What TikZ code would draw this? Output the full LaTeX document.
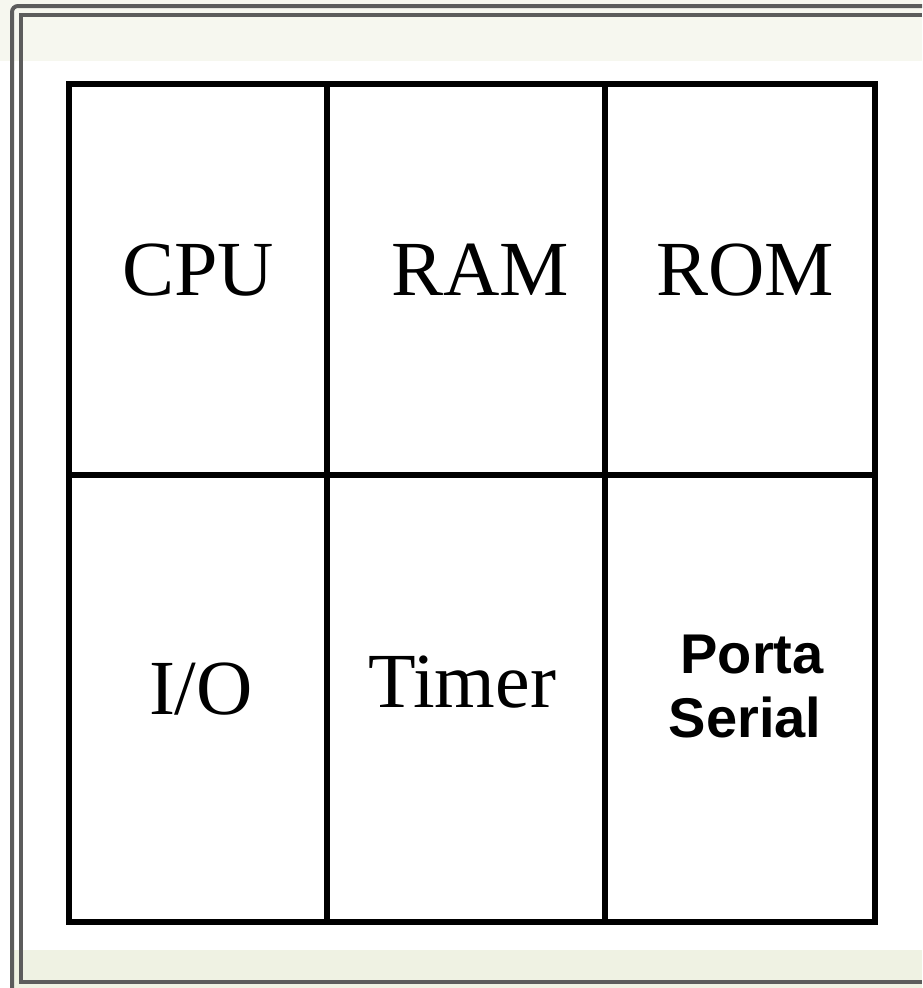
\documentclass[tikz,border=0pt]{standalone}
\usepackage{fontspec}
\setmainfont{Liberation Serif}
\newfontfamily\arialfont{Liberation Sans}
\definecolor{bandtop}{HTML}{F6F7EF}
\definecolor{bandbot}{HTML}{EFF2E3}
\definecolor{framegray}{HTML}{5C5C5C}
\tikzset{
  gridline/.style={line width=6pt, black},
  frameline/.style={line width=4pt, framegray},
  serif/.style={font=\fontsize{78}{84}\selectfont, inner sep=0pt},
  sans/.style={font=\arialfont\bfseries\fontsize{56}{64}\selectfont, inner sep=0pt, align=center}
}
\begin{document}
\begin{tikzpicture}[x=1pt,y=-1pt]
\useasboundingbox (0,0) rectangle (922,988);
\fill[white] (0,0) rectangle (922,988);
\fill[bandtop] (0,0) rectangle (922,61);
\fill[bandbot] (12,950) rectangle (922,988);
% frame lines
\draw[frameline, rounded corners=6pt] (12,988) -- (12,6) -- (922,6);
\draw[frameline] (922,15) -- (21,15) -- (21,982) -- (922,982);
% grid
\coordinate (tl) at (69,84);
\coordinate (br) at (875,922);
\draw[gridline] (tl) rectangle (br);
\coordinate (v1t) at (327,84); \coordinate (v1b) at (327,922);
\coordinate (v2t) at (605,84); \coordinate (v2b) at (605,922);
\coordinate (hl) at (69,475); \coordinate (hr) at (875,475);
\draw[gridline] (v1t) -- (v1b);
\draw[gridline] (v2t) -- (v2b);
\draw[gridline] (hl) -- (hr);
% labels
\node[serif, anchor=base] (cpu) at (198,295) {CPU};
\node[serif, anchor=base] (ram) at (480,295) {RAM};
\node[serif, anchor=base] (rom) at (745,295) {ROM};
\node[serif, anchor=base] (io) at (201,714) {I/O};
\node[serif, anchor=base] (timer) at (462,707) {Timer};
\node[sans, anchor=base] (porta) at (752,673) {Porta};
\node[sans, anchor=base] (serial) at (745,737) {Serial};
\end{tikzpicture}
\end{document}
